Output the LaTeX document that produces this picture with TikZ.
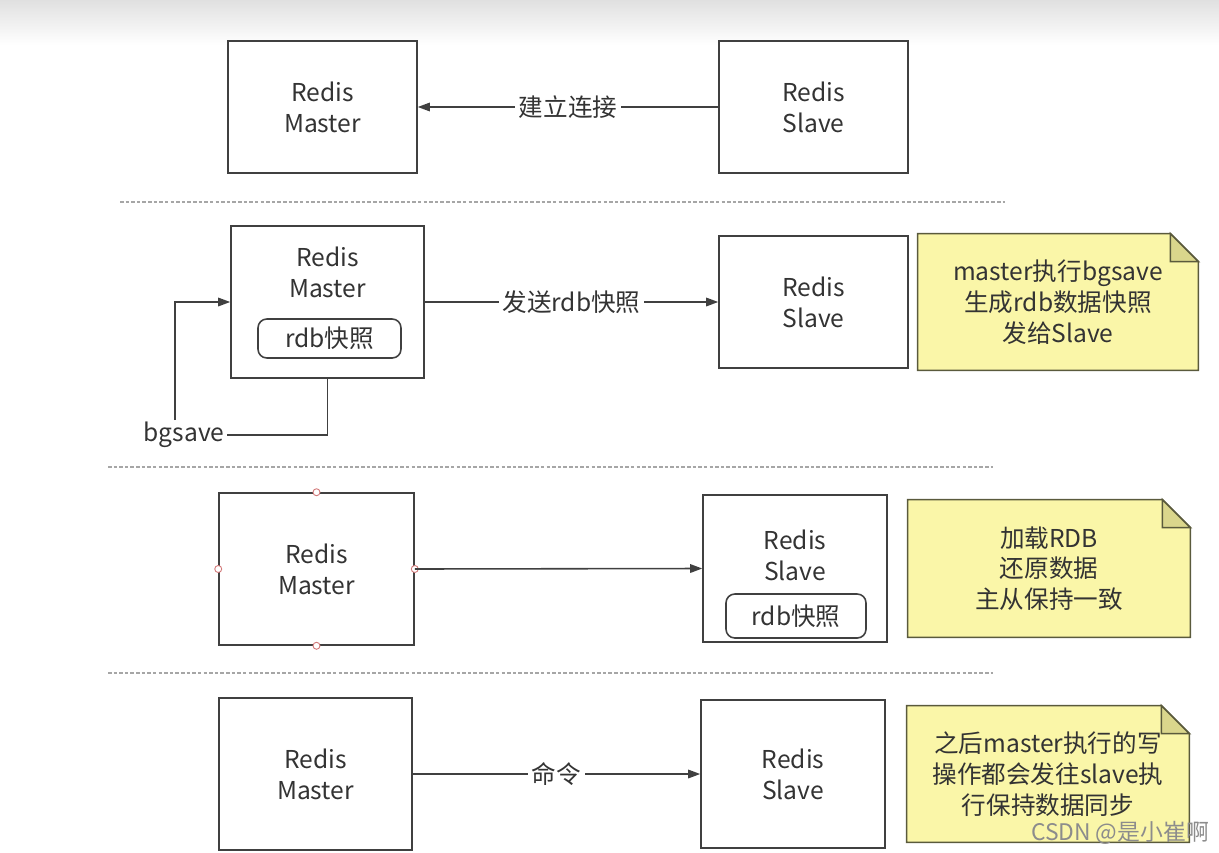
\documentclass[tikz,border=0pt]{standalone}
\usepackage{fontspec}
\newfontfamily\cjk{Noto Sans CJK SC}
\usetikzlibrary{positioning, arrows.meta, backgrounds}
\definecolor{linecolor}{RGB}{64,64,64}
\definecolor{notecolor}{RGB}{250,246,168}
\definecolor{foldcolor}{RGB}{218,214,140}
\definecolor{noteborder}{RGB}{90,90,60}
\definecolor{handlecolor}{RGB}{210,120,120}

\begin{document}
\begin{tikzpicture}[x=0.02cm, y=-0.02cm]
  \tikzset{
    box/.style={
      draw=linecolor,
      line width=0.9pt,
      fill=white,
      align=center,
      inner sep=0pt,
      font=\cjk\fontsize{14}{17.5}\selectfont,
      text=black!80
    },
    snapshot/.style={
      draw=linecolor,
      line width=0.9pt,
      rounded corners=5pt,
      minimum width=2.86cm,
      minimum height=0.78cm,
      inner sep=0pt,
      font=\cjk\fontsize{14}{17.5}\selectfont,
      text=black!80
    },
    boxtext/.style={
      align=center,
      font=\cjk\fontsize{14}{17.5}\selectfont,
      text=black!80
    },
    notetext/.style={
      align=center,
      inner sep=0pt,
      font=\cjk\fontsize{14}{17.5}\selectfont,
      text=black!80
    },
    link/.style={
      draw=linecolor,
      line width=0.9pt,
      -{Triangle[length=0.24cm, width=0.17cm]}
    },
    edgelabel/.style={
      fill=white,
      inner sep=2pt,
      font=\cjk\fontsize{14}{17.5}\selectfont,
      text=black!80
    },
    separator/.style={
      draw=black!35,
      line width=0.8pt,
      dash pattern=on 2pt off 1.2pt
    },
    notebody/.style={
      draw=noteborder,
      line width=0.9pt,
      fill=notecolor
    },
    notefold/.style={
      draw=noteborder,
      line width=0.9pt,
      fill=foldcolor
    },
    handle/.style={
      draw=handlecolor,
      fill=white,
      line width=0.5pt
    }
  }
  \useasboundingbox (0,0) rectangle (1219,852);

  % Section 1: connect
  \node[box, minimum width=3.78cm, minimum height=2.64cm] at (322.5,107) (m1) {Redis\\Master};
  \node[box, minimum width=3.78cm, minimum height=2.64cm] at (813.5,107) (s1) {Redis\\Slave};
  \draw[link] (s1.west) -- node[edgelabel] (l1) {建立连接} (m1.east);

  \path[separator] (120,202) -- (1005,202);

  % Section 2: bgsave and send snapshot
  \node[box, minimum width=3.86cm, minimum height=3.04cm] at (327.5,302) (m2) {};
  \node[boxtext] at (327.5,272) (m2text) {Redis\\Master};
  \node[snapshot] at (329.5,338.5) (rdb2) {rdb快照};
  \node[box, minimum width=3.78cm, minimum height=2.64cm] at (813.5,302) (s2) {Redis\\Slave};
  \draw[link] (m2.east) -- node[edgelabel] (l2) {发送rdb快照} (s2.west);
  \node[boxtext, inner sep=1pt] at (184,435) (bgsave) {bgsave};
  \draw[draw=linecolor, line width=0.9pt] (m2.south) |- (bgsave.east);
  \draw[link] ([xshift=-0.18cm]bgsave.north) |- (m2.west);
  \node[notetext, minimum width=5.6cm, minimum height=2.72cm] at (1058,302) (n2) {master执行bgsave\\生成rdb数据快照\\发给Slave};

  \path[separator] (108,467) -- (993,467);

  % Section 3: load snapshot
  \node[box, minimum width=3.9cm, minimum height=3.04cm] at (316.5,569) (m3) {Redis\\Master};
  \foreach \side in {north, south, east, west}
    \draw[handle] (m3.\side) circle (3.5);
  \node[box, minimum width=3.68cm, minimum height=2.94cm] at (795,568.5) (s3) {};
  \node[boxtext] at (795,555) (s3text) {Redis\\Slave};
  \node[snapshot, minimum width=2.8cm, minimum height=0.88cm] at (796,616) (rdb3) {rdb快照};
  \draw[link] (m3.east) -- (s3.west);
  \node[notetext, minimum width=5.64cm, minimum height=2.74cm] at (1049,568.5) (n3) {加载RDB\\还原数据\\主从保持一致};

  \path[separator] (108,673) -- (993,673);

  % Section 4: propagate commands
  \node[box, minimum width=3.86cm, minimum height=3.04cm] at (315.5,774) (m4) {Redis\\Master};
  \node[box, minimum width=3.68cm, minimum height=2.96cm] at (793,774) (s4) {Redis\\Slave};
  \draw[link] (m4.east) -- node[edgelabel] (l4) {命令} (s4.west);
  \node[notetext, minimum width=5.64cm, minimum height=2.72cm] at (1048,774) (n4) {之后master执行的写\\操作都会发往slave执\\行保持数据同步};

  % Note shapes behind the note texts
  \begin{scope}[on background layer]
    \shade[top color=black!12, bottom color=white] (0,0) rectangle (1219,45);
    \foreach \n in {n2, n3, n4} {
      \path[notebody] (\n.north west) -- ([xshift=-0.56cm]\n.north east)
        -- ([yshift=-0.56cm]\n.north east) -- (\n.south east) -- (\n.south west) -- cycle;
      \path[notefold] ([xshift=-0.56cm]\n.north east) -- ([xshift=-0.56cm, yshift=-0.56cm]\n.north east)
        -- ([yshift=-0.56cm]\n.north east) -- cycle;
    }
  \end{scope}

  % Watermark
  \node[font=\cjk\fontsize{13}{15}\selectfont, text=black!45] at (1120,833) (mark) {CSDN @是小崔啊};
\end{tikzpicture}
\end{document}
